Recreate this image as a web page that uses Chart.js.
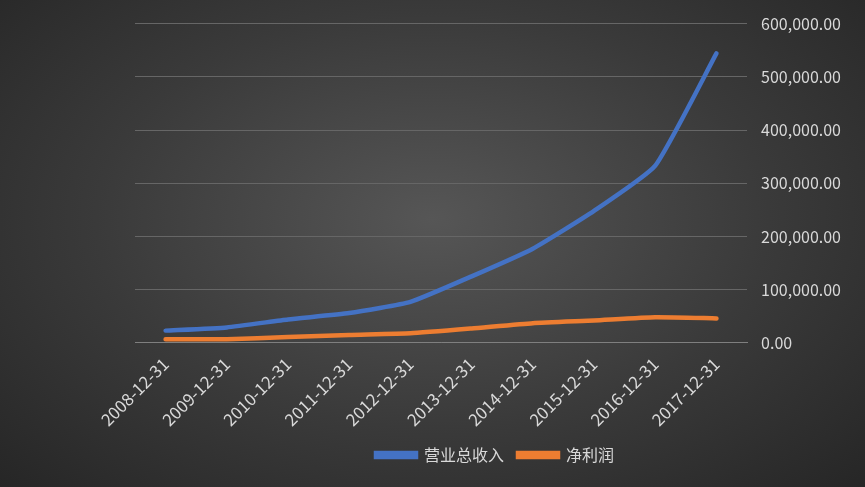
<!DOCTYPE html>
<html><head><meta charset="utf-8">
<script src="https://cdn.jsdelivr.net/npm/chart.js@4"></script>
<style>
html,body{margin:0;padding:0;}
#wrap{width:865px;height:487px;background:radial-gradient(ellipse at 50% 45%,#565656 0%,#3a3a3a 55%,#262626 100%);}
</style></head>
<body><div id="wrap"><canvas id="c" width="865" height="487"></canvas></div>
<script>
const categories=['2008-12-31','2009-12-31','2010-12-31','2011-12-31','2012-12-31','2013-12-31','2014-12-31','2015-12-31','2016-12-31','2017-12-31'];
const revenue=[23000,29000,44000,56000,77000,125000,177000,248000,333000,544000];
const profit=[7000,7000,11000,15000,18000,27000,37000,42000,48000,46000];
const yTicks=[0,100000,200000,300000,400000,500000,600000];
const fmt=v=>v.toLocaleString('en-US',{minimumFractionDigits:2,maximumFractionDigits:2});
Chart.defaults.font.family="'Noto Sans CJK SC','DejaVu Sans',sans-serif";
new Chart(document.getElementById('c'),{
type:'line',
data:{labels:categories,datasets:[
{label:'营业总收入',data:revenue,borderColor:'#4472c4',backgroundColor:'#4472c4',borderWidth:4.5,pointRadius:0,tension:0.15,borderCapStyle:'round'},
{label:'净利润',data:profit,borderColor:'#ed7d31',backgroundColor:'#ed7d31',borderWidth:4.5,pointRadius:0,tension:0.15,borderCapStyle:'round'}]},
options:{responsive:false,animation:false,
layout:{padding:{left:135,right:10,top:14,bottom:14}},
plugins:{legend:{position:'bottom',labels:{color:'#d9d9d9',font:{size:16},boxWidth:40,boxHeight:4,padding:14}},tooltip:{enabled:false}},
scales:{
x:{offset:true,grid:{display:false},border:{color:'#7f7f7f'},ticks:{color:'#d9d9d9',font:{size:17},maxRotation:45,minRotation:45}},
y:{position:'right',min:0,max:600000,afterBuildTicks:a=>{a.ticks=yTicks.map(v=>({value:v}));},
grid:{color:'#666666',drawTicks:false},border:{display:false},
ticks:{color:'#d9d9d9',font:{size:16},padding:14,callback:v=>fmt(v)}}
}}});
</script></body></html>
